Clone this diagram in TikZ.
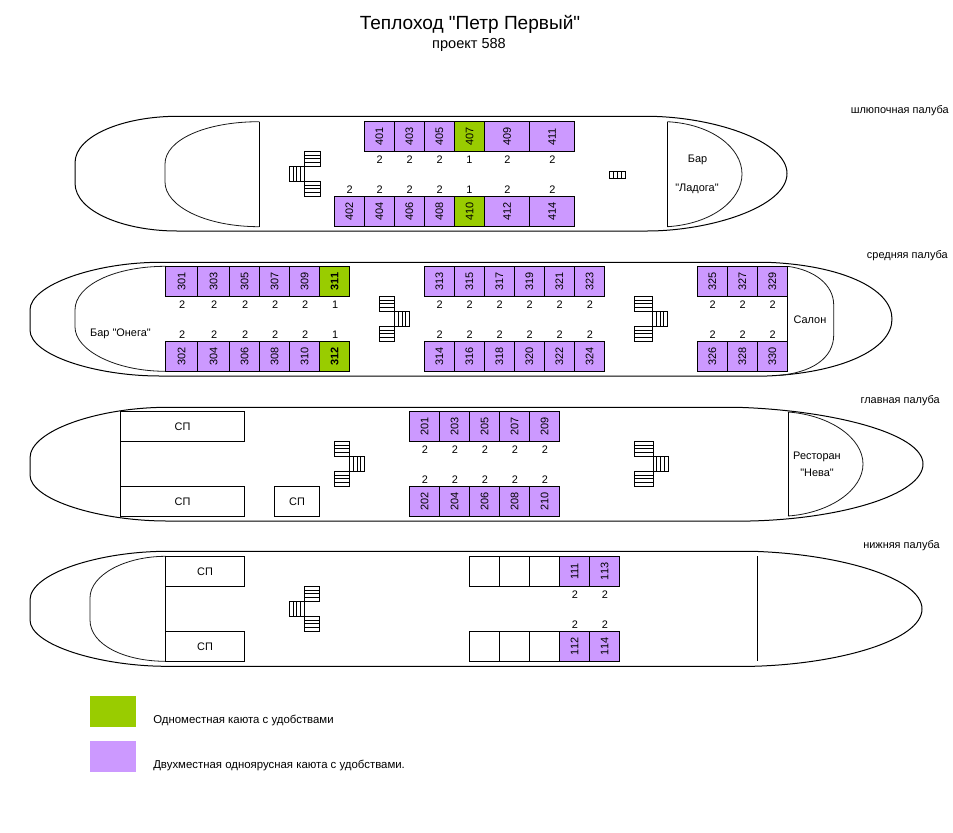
\documentclass[tikz,border=0pt]{standalone}
\usepackage{fontspec}
\setmainfont[Ligatures=TeXOff]{Liberation Sans}
\usetikzlibrary{positioning}
\definecolor{purplecab}{HTML}{CC99FF}
\definecolor{greencab}{HTML}{99CC00}
\tikzstyle{line} = [line width=0.75pt, black]
\tikzstyle{thin line} = [line width=0.6pt, black!90]
\tikzstyle{label} = [inner sep=0pt, font=\fontsize{8.2}{10}\selectfont]
\tikzstyle{seats} = [label, xshift=0.3pt, yshift=-0.6pt]
\tikzstyle{room} = [draw=black, line width=0.75pt, inner sep=0pt, outer sep=0pt, minimum height=30*0.75pt, font=\fontsize{8.2}{10}\selectfont]
\tikzstyle{cabin} = [room, fill=purplecab, rotate=90]
\tikzstyle{single} = [room, fill=greencab, rotate=90]
\newcommand{\stepsh}[4]{
	\draw[line] (#1,#2) rectangle (#3,#4);
	\foreach \t in {.25,.5,.75} \draw[line] (#1,{#2+\t*(#4-(#2))}) -- (#3,{#2+\t*(#4-(#2))});
}
\newcommand{\stepsv}[4]{
	\draw[line] (#1,#2) rectangle (#3,#4);
	\foreach \t in {.25,.5,.75} \draw[line] ({#1+\t*(#3-(#1))},#2) -- ({#1+\t*(#3-(#1))},#4);
}
\newcommand{\stairs}[5]{
	\stepsh{#1}{#5}{#2}{#5+15}
	\stepsv{#3}{#5+15}{#4}{#5+30}
	\stepsh{#1}{#5+30}{#2}{#5+45}
}
\begin{document}
\begin{tikzpicture}[x=0.75pt, y=-0.75pt]
	\useasboundingbox (0,0) rectangle (953,832);
	% title
	\node (title) [inner sep=0pt, font=\fontsize{14.3}{16}\selectfont] at (470,24) {Теплоход "Петр Первый"};
	\node (project) [inner sep=0pt, font=\fontsize{10.9}{12}\selectfont] at (469,45) {проект 588};
	% deck names
	\node (deckfour) [label, anchor=base east] at (949,113) {шлюпочная палуба};
	\node (deckthree) [label, anchor=base east] at (948,258) {средняя палуба};
	\node (decktwo) [label, anchor=base east] at (940,403) {главная палуба};
	\node (deckone) [label, anchor=base east] at (940,548) {нижняя палуба};

	% boat deck
	\draw[line] (177,116.3) .. controls (125,116.3) and (75,135) .. (75,163) -- (75,183) .. controls (75,212) and (125,231) .. (177,231) -- (647,231) .. controls (710,231) and (787,207) .. (787,173.5) .. controls (787,140) and (710,116.3) .. (647,116.3) -- cycle;
	\draw[thin line] (259.3,121.7) .. controls (205,121.7) and (165,140) .. (165,164) -- (165,182) .. controls (165,206) and (205,226.7) .. (259.3,226.7);
	\draw[line] (259.3,121.7) -- (259.3,226.7);
	\draw[thin line] (667.3,121.7) .. controls (712,124) and (742,148) .. (742,174) .. controls (742,200) and (712,224) .. (667.3,226.7);
	\draw[line] (667.3,121.7) -- (667.3,226.7);
	\foreach \num/\xpos/\cwd/\cnt in {401/379.3/30/2, 403/409.3/30/2, 405/439.3/30/2, 409/507/45/2, 411/552/45/2} {
		\node (c\num) [cabin, minimum width=30*0.75pt, minimum height=\cwd*0.75pt] at (\xpos,136.7) {\num};
		\node (s\num) [seats] at (\xpos,159) {\cnt};
	}
	\node (c407) [single, minimum width=30*0.75pt] at (469.5,136.7) {407};
	\node (s407) [seats] at (469,159) {1};
	\foreach \num/\xpos/\cwd/\cnt in {402/349.3/30/2, 404/379.3/30/2, 406/409.3/30/2, 408/439.3/30/2, 412/507/45/2, 414/552/45/2} {
		\node (c\num) [cabin, minimum width=30*0.75pt, minimum height=\cwd*0.75pt] at (\xpos,211.5) {\num};
		\node (s\num) [seats] at (\xpos,189) {\cnt};
	}
	\node (c410) [single, minimum width=30*0.75pt] at (469.5,211.5) {410};
	\node (s410) [seats] at (469,189) {1};
	\stairs{304.3}{320}{289.3}{304.3}{151.3}
	\stepsv{609.3}{171.3}{625}{178.7}
	\node (ladogaone) [label] at (697.5,160) {Бар};
	\node (ladogatwo) [label] at (697,189) {"Ладога"};

	% middle deck
	\draw[line] (160,262.3) .. controls (95,262.3) and (30,285) .. (30,310) -- (30,330) .. controls (30,355) and (95,376) .. (160,376) -- (767,376) .. controls (840,373) and (892,350) .. (892,319) .. controls (892,288) and (840,265) .. (767,262.3) -- cycle;
	\draw[thin line] (165.7,266.3) .. controls (115,266.3) and (75,285) .. (75,310) -- (75,327) .. controls (75,350) and (115,371.3) .. (165.7,371.3);
	\draw[thin line] (787.5,266.3) .. controls (815,270) and (833.7,285) .. (833.7,305) -- (833.7,335) .. controls (833.7,358) and (812,373) .. (777,375.5);
	\draw[line] (787.5,266.3) -- (787.5,371.3);
	\foreach \num/\xpos/\cwd in {301/181.7/32, 303/213.7/32, 305/244.7/30, 307/274.7/30, 309/304.7/30, 313/439.3/30, 315/469.3/30, 317/499.3/30, 319/529.3/30, 321/559.3/30, 323/589.5/30, 325/712.3/30, 327/742.3/30, 329/772.3/30} {
		\node (c\num) [cabin, minimum width=30*0.75pt, minimum height=\cwd*0.75pt] at (\xpos,281.3) {\num};
		\node (s\num) [seats] at (\xpos,304) {2};
	}
	\foreach \num/\xpos/\cwd in {302/181.7/32, 304/213.7/32, 306/244.7/30, 308/274.7/30, 310/304.7/30, 314/439.3/30, 316/469.3/30, 318/499.3/30, 320/529.3/30, 322/559.3/30, 324/589.5/30, 326/712.3/30, 328/742.3/30, 330/772.3/30} {
		\node (c\num) [cabin, minimum width=30*0.75pt, minimum height=\cwd*0.75pt] at (\xpos,356.3) {\num};
		\node (s\num) [seats] at (\xpos,334) {2};
	}
	\node (c311) [single, minimum width=30*0.75pt, font=\fontsize{8.2}{10}\selectfont\bfseries] at (334.7,281.3) {311};
	\node (s311) [seats] at (334.7,304) {1};
	\node (c312) [single, minimum width=30*0.75pt, font=\fontsize{8.2}{10}\selectfont\bfseries] at (334.7,356.3) {312};
	\node (s312) [seats] at (334.7,334) {1};
	\stairs{379.3}{394.3}{394.3}{409.7}{296.3}
	\stairs{634.3}{652.7}{652.7}{667.7}{296.3}
	\node (onega) [label] at (120.5,334) {Бар "Онега"};
	\node (salon) [label] at (810,319.5) {Салон};

	% main deck
	\draw[line] (167,407.3) .. controls (100,407.3) and (30,430) .. (30,458) -- (30,475) .. controls (30,500) and (100,521) .. (167,521) -- (750,521) .. controls (840,519) and (923,495) .. (923,464) .. controls (923,433) and (830,410) .. (737,407.3) -- cycle;
	\draw[line] (120.7,441.3) -- (120.7,486.3);
	\node (spone) [room, minimum width=123.6*0.75pt, anchor=north west] at (120.7,411.3) {СП};
	\node (sptwo) [room, minimum width=123.6*0.75pt, anchor=north west] at (120.7,486.3) {СП};
	\node (spthree) [room, minimum width=45.4*0.75pt, anchor=north west] at (274.3,486.3) {СП};
	\draw[thin line] (788,412) .. controls (830,415) and (863,438) .. (863,464) .. controls (863,490) and (830,513) .. (788,516);
	\draw[line] (788,412) -- (788,516);
	\foreach \num/\xpos in {201/424.5, 203/454.5, 205/484.5, 207/514.5, 209/544.5} {
		\node (c\num) [cabin, minimum width=30*0.75pt, minimum height=30*0.75pt] at (\xpos,426.3) {\num};
		\node (s\num) [seats] at (\xpos,449) {2};
	}
	\foreach \num/\xpos in {202/424.5, 204/454.5, 206/484.5, 208/514.5, 210/544.5} {
		\node (c\num) [cabin, minimum width=30*0.75pt, minimum height=30*0.75pt] at (\xpos,501.3) {\num};
		\node (s\num) [seats] at (\xpos,479) {2};
	}
	\stairs{334.3}{349.7}{349.7}{364.7}{441.3}
	\stairs{634.7}{653}{653}{668}{441.3}
	\node (nevaone) [label] at (817,457) {Ресторан};
	\node (nevatwo) [label] at (817,472.5) {"Нева"};

	% lower deck
	\draw[line] (167,551.3) .. controls (100,551.3) and (30,573) .. (30,600) -- (30,620) .. controls (30,645) and (100,666.3) .. (167,666.3) -- (753,666.3) .. controls (840,664) and (922,640) .. (922,609) .. controls (922,578) and (840,554) .. (753,551.3) -- cycle;
	\draw[thin line] (165.7,556.3) .. controls (125,556.3) and (90,575) .. (90,598) -- (90,620) .. controls (90,645) and (125,661.3) .. (165.7,661.3);
	\draw[line] (165.7,586.3) -- (165.7,631.3);
	\node (spfour) [room, minimum width=78.6*0.75pt, anchor=north west] at (165.7,556.3) {СП};
	\node (spfive) [room, minimum width=78.6*0.75pt, anchor=north west] at (165.7,631.3) {СП};
	\draw[line] (757,556.3) -- (757,661.3);
	\foreach \xpos [count=\i] in {484.3, 514.3, 544.3} {
		\node (eu\i) [room, minimum width=30*0.75pt] at (\xpos,571.3) {};
		\node (el\i) [room, minimum width=30*0.75pt] at (\xpos,646.3) {};
	}
	\foreach \num/\xpos in {111/574.5, 113/604.5} {
		\node (c\num) [cabin, minimum width=30*0.75pt, minimum height=30*0.75pt] at (\xpos,571.3) {\num};
		\node (s\num) [seats] at (\xpos,593.5) {2};
	}
	\foreach \num/\xpos in {112/574.5, 114/604.5} {
		\node (c\num) [cabin, minimum width=30*0.75pt, minimum height=30*0.75pt] at (\xpos,646.3) {\num};
		\node (s\num) [seats] at (\xpos,623.5) {2};
	}
	\stairs{304.3}{319.7}{289.3}{304.3}{586.3}

	% legend
	\node (keyone) [fill=greencab, inner sep=0pt, minimum width=46*0.75pt, minimum height=31*0.75pt, anchor=north west] at (90,696) {};
	\node (keytwo) [fill=purplecab, inner sep=0pt, minimum width=46*0.75pt, minimum height=31*0.75pt, anchor=north west] at (90,741) {};
	\node (textone) [inner sep=0pt, font=\fontsize{8.55}{10}\selectfont, anchor=base west] at (153,723) {Одноместная каюта с удобствами};
	\node (texttwo) [inner sep=0pt, font=\fontsize{8.55}{10}\selectfont, anchor=base west] at (153,768) {Двухместная одноярусная каюта с удобствами.};
\end{tikzpicture}
\end{document}
